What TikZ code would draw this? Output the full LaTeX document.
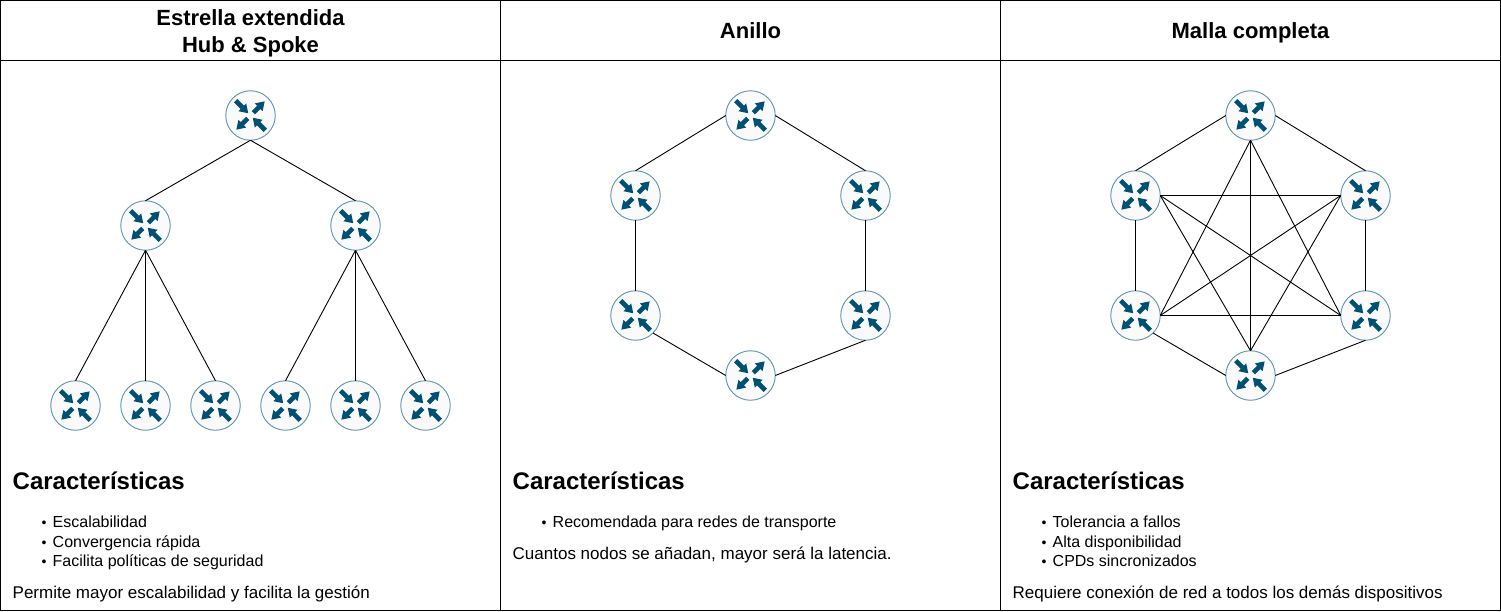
\documentclass[tikz,border=0pt]{standalone}
\usepackage{fontspec}
\setmainfont{Liberation Sans}
\definecolor{arrowblue}{HTML}{005073}
\definecolor{ringblue}{HTML}{5C93AD}
\definecolor{discfill}{HTML}{FAFAFA}
% unit x, unit y, tail radius, tip radius, direction
\newcommand{\rpt}[4]{({(#3)*(#1)-(#4)*(#2)},{(#3)*(#2)+(#4)*(#1)})}
\newcommand{\rarrow}[5]{%
  \fill[arrowblue] \rpt{#1}{#2}{#3}{-2.3} -- \rpt{#1}{#2}{#4-#5*8.4}{-2.3} -- \rpt{#1}{#2}{#4-#5*8.4}{-5.5}
    -- \rpt{#1}{#2}{#4}{0} -- \rpt{#1}{#2}{#4-#5*8.4}{5.5} -- \rpt{#1}{#2}{#4-#5*8.4}{2.3} -- \rpt{#1}{#2}{#3}{2.3} -- cycle;}
\newcommand{\rallarrows}{%
  \begin{scope}[shift={(path picture bounding box.center)}]
    \rarrow{0.7071}{-0.7071}{4}{20}{1}
    \rarrow{-0.7071}{0.7071}{4}{20}{1}
    \rarrow{-0.7071}{-0.7071}{21}{3.2}{-1}
    \rarrow{0.7071}{0.7071}{21}{3.2}{-1}
  \end{scope}}
\tikzset{
  router/.style={circle,draw=ringblue,fill=discfill,line width=0.9pt,minimum size=49.5pt,
    inner sep=0pt,outer sep=0pt,path picture={\rallarrows}},
  link/.style={draw=black,line width=0.9pt},
  frameline/.style={draw=black,line width=1pt},
  headtext/.style={font=\fontsize{22}{25}\selectfont\bfseries,anchor=base,inner sep=0pt},
  subhead/.style={font=\fontsize{24}{28}\selectfont\bfseries,anchor=base west,inner sep=0pt},
  bodytext/.style={font=\fontsize{16}{19}\selectfont,anchor=base west,inner sep=0pt},
  paratext/.style={font=\fontsize{17}{20}\selectfont,anchor=base west,inner sep=0pt},
}
\newcommand{\blt}{\makebox[11pt][l]{\fontsize{14}{14}\selectfont •}}
\begin{document}
\begin{tikzpicture}[x=1pt,y=-1pt]
\useasboundingbox (0,0) rectangle (1501,611);
\fill[white] (0,0) rectangle (1501,611);
% table frame
\draw[frameline] (0.5,0.5) rectangle (1500.5,610.5);
\draw[frameline] (0.5,60.5) -- (1500.5,60.5);
\draw[frameline] (500.5,0.5) -- (500.5,610.5);
\draw[frameline] (1000.5,0.5) -- (1000.5,610.5);
% headings
\node[headtext] (t1a) at (250.5,25.3) {Estrella extendida};
\node[headtext] (t1b) at (250.5,52.3) {Hub \& Spoke};
\node[headtext] (t2) at (750.5,38.6) {Anillo};
\node[headtext] (t3) at (1250.5,38.6) {Malla completa};
% star
\node[router] (s0) at (250.5,115.5) {};
\node[router] (s1) at (145.5,225.5) {};
\node[router] (s2) at (355.5,225.5) {};
\node[router] (l1) at (75.5,405.5) {};
\node[router] (l2) at (145.5,405.5) {};
\node[router] (l3) at (215.5,405.5) {};
\node[router] (l4) at (285.5,405.5) {};
\node[router] (l5) at (355.5,405.5) {};
\node[router] (l6) at (425.5,405.5) {};
\draw[link] (s0.south) -- (s1.north);
\draw[link] (s0.south) -- (s2.north);
\draw[link] (s1.south) -- (l1.north);
\draw[link] (s1.south) -- (l2.north);
\draw[link] (s1.south) -- (l3.north);
\draw[link] (s2.south) -- (l4.north);
\draw[link] (s2.south) -- (l5.north);
\draw[link] (s2.south) -- (l6.north);
% ring
\node[router] (a0) at (750.5,115.5) {};
\node[router] (a1) at (635.5,195.5) {};
\node[router] (a2) at (865.5,195.5) {};
\node[router] (a3) at (635.5,315.5) {};
\node[router] (a4) at (865.5,315.5) {};
\node[router] (a5) at (750.5,375.5) {};
\draw[link] (a0.west) -- (a1.north);
\draw[link] (a0.east) -- (a2.north);
\draw[link] (a1.south) -- (a3.north);
\draw[link] (a2.south) -- (a4.north);
\draw[link] (a3.south east) -- (a5.west);
\draw[link] (a4.south) -- (a5.east);
% mesh
\node[router] (m0) at (1250.5,115.5) {};
\node[router] (m1) at (1135.5,195.5) {};
\node[router] (m2) at (1365.5,195.5) {};
\node[router] (m3) at (1135.5,315.5) {};
\node[router] (m4) at (1365.5,315.5) {};
\node[router] (m5) at (1250.5,375.5) {};
\draw[link] (m0.west) -- (m1.north);
\draw[link] (m0.east) -- (m2.north);
\draw[link] (m1.south) -- (m3.north);
\draw[link] (m2.south) -- (m4.north);
\draw[link] (m3.south east) -- (m5.west);
\draw[link] (m4.south) -- (m5.east);
\draw[link] (m0.south) -- (m3.east);
\draw[link] (m0.south) -- (m4.west);
\draw[link] (m0.south) -- (m5.north);
\draw[link] (m1.east) -- (m2.west);
\draw[link] (m1.east) -- (m4.west);
\draw[link] (m1.east) -- (m5.north);
\draw[link] (m2.west) -- (m3.east);
\draw[link] (m2.west) -- (m5.north);
\draw[link] (m3.east) -- (m4.west);
% texts column 1
\node[subhead] (c1) at (12.5,489) {Características};
\node[bodytext] (c1a) at (41.5,527) {\blt Escalabilidad};
\node[bodytext] (c1b) at (41.5,547) {\blt Convergencia rápida};
\node[bodytext] (c1c) at (41.5,566) {\blt Facilita políticas de seguridad};
\node[paratext] (c1d) at (12.5,598) {Permite mayor escalabilidad y facilita la gestión};
% texts column 2
\node[subhead] (c2) at (512.5,489) {Características};
\node[bodytext] (c2a) at (541.5,527) {\blt Recomendada para redes de transporte};
\node[paratext] (c2d) at (512.5,559) {Cuantos nodos se añadan, mayor será la latencia.};
% texts column 3
\node[subhead] (c3) at (1012.5,489) {Características};
\node[bodytext] (c3a) at (1041.5,527) {\blt Tolerancia a fallos};
\node[bodytext] (c3b) at (1041.5,547) {\blt Alta disponibilidad};
\node[bodytext] (c3c) at (1041.5,566) {\blt CPDs sincronizados};
\node[paratext] (c3d) at (1012.5,598) {Requiere conexión de red a todos los demás dispositivos};
\end{tikzpicture}
\end{document}
